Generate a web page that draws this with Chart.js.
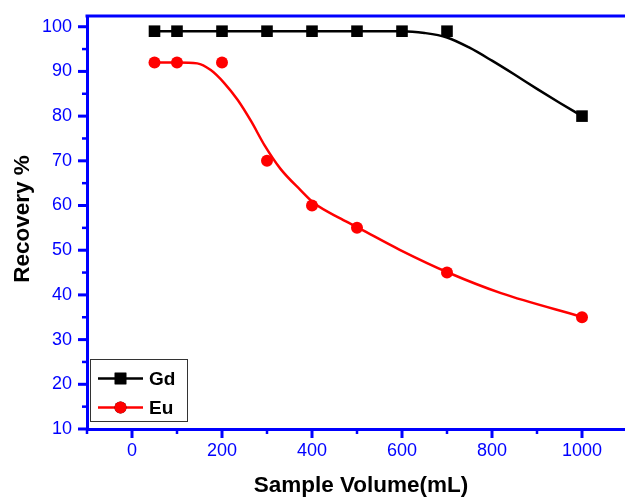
<!DOCTYPE html>
<html>
<head>
<meta charset="utf-8">
<script src="https://cdn.jsdelivr.net/npm/chart.js@4.4.1/dist/chart.umd.min.js"></script>
<style>
  html, body { margin: 0; padding: 0; background: #fff; overflow: hidden; }
  #wrap { position: absolute; left: 0; top: 0; width: 640px; height: 497px; }
</style>
</head>
<body>
<div id="wrap"><canvas id="c" width="640" height="497"></canvas></div>
<script>
// Measured recovery values
const volumes   = [50, 100, 200, 300, 400, 500, 600, 700, 1000];
const gdValues  = [99, 99, 99, 99, 99, 99, 99, 99, 80];
const euVolumes = [50, 100, 200, 300, 400, 500, 700, 1000];
const euValues  = [92, 92, 92, 70, 60, 55, 45, 35];

// Fitted trend curves
const gdCurveX = [50, 100, 200, 300, 400, 500, 600, 650, 700, 750, 800, 850, 900, 950, 1000];
const gdCurveY = [99, 99, 99, 99, 99, 99, 99, 98.6, 97.6, 95.3, 92.4, 89.3, 86.1, 83.0, 80];
const euCurveX = [50, 100, 145, 175, 205, 235, 265, 295, 330, 375, 405, 465, 505, 595, 705, 820, 1000];
const euCurveY = [92, 92, 91.8, 90.3, 87.4, 83.6, 78.8, 73.4, 68.2, 63.4, 60.5, 57.0, 54.9, 50.1, 44.9, 40.4, 35.1];

// Axis ticks
const xMajorTicks = [0, 200, 400, 600, 800, 1000];
const xMinorTicks = [-100, 100, 300, 500, 700, 900];
const yMajorTicks = [10, 20, 30, 40, 50, 60, 70, 80, 90, 100];
const yMinorTicks = [15, 25, 35, 45, 55, 65, 75, 85, 95];

const BLUE = '#0000ff';
const toPts = (xs, ys) => xs.map((x, i) => ({ x: x, y: ys[i] }));
const noPad = s => { s.paddingTop = 0; s.paddingBottom = 0; s.paddingLeft = 0; s.paddingRight = 0; };

const frame = {
  id: 'frame',
  afterDraw(chart) {
    const ctx = chart.ctx;
    const a = chart.chartArea;
    const xs = chart.scales.x, ys = chart.scales.y;
    ctx.save();
    ctx.strokeStyle = BLUE;
    ctx.lineCap = 'butt';
    // top border
    ctx.lineWidth = 3;
    ctx.beginPath();
    ctx.moveTo(a.left - 1.5, a.top);
    ctx.lineTo(chart.width, a.top);
    ctx.stroke();
    // tick marks, drawn outward
    const tickX = (v, len, w) => {
      const p = xs.getPixelForValue(v);
      ctx.lineWidth = w;
      ctx.beginPath(); ctx.moveTo(p, a.bottom); ctx.lineTo(p, a.bottom + len); ctx.stroke();
    };
    const tickY = (v, len, w) => {
      const p = ys.getPixelForValue(v);
      ctx.lineWidth = w;
      ctx.beginPath(); ctx.moveTo(a.left, p); ctx.lineTo(a.left - len, p); ctx.stroke();
    };
    xMajorTicks.forEach(v => tickX(v, 9, 3));
    xMinorTicks.forEach(v => tickX(v, 5, 2.5));
    yMajorTicks.forEach(v => tickY(v, 9, 3));
    yMinorTicks.forEach(v => tickY(v, 5, 2.5));

    // axis titles
    ctx.fillStyle = '#000';
    ctx.font = 'bold 22.5px "Liberation Sans", Arial, sans-serif';
    ctx.textAlign = 'center';
    ctx.textBaseline = 'middle';
    ctx.fillText('Sample Volume(mL)', 361, 486);
    ctx.save();
    ctx.translate(23, 219);
    ctx.rotate(-Math.PI / 2);
    ctx.fillText('Recovery %', 0, 0);
    ctx.restore();

    // legend box
    ctx.lineWidth = 1;
    ctx.strokeStyle = '#333';
    ctx.strokeRect(90.5, 359.5, 97, 62);
    const items = [
      { ds: chart.data.datasets[0], y: 378.5 },
      { ds: chart.data.datasets[1], y: 407.5 }
    ];
    items.forEach(it => {
      ctx.strokeStyle = it.ds.borderColor;
      ctx.lineWidth = 2.5;
      ctx.beginPath(); ctx.moveTo(98, it.y); ctx.lineTo(143, it.y); ctx.stroke();
      Chart.helpers.drawPoint(ctx, {
        pointStyle: it.ds.pointStyle, radius: it.ds.pointRadius, borderWidth: 0
      }, 120.5, it.y);
      ctx.fillStyle = it.ds.backgroundColor;
      ctx.fill();
      ctx.fillStyle = '#000';
      ctx.font = 'bold 19px "Liberation Sans", Arial, sans-serif';
      ctx.textAlign = 'left';
      ctx.textBaseline = 'middle';
      ctx.fillText(it.ds.label, 149, it.y + 1);
    });
    ctx.restore();
  }
};

new Chart(document.getElementById('c'), {
  type: 'line',
  data: {
    datasets: [
      { label: 'Gd', data: toPts(volumes, gdValues), showLine: false,
        pointStyle: 'rect', pointRadius: 8.2, pointBorderWidth: 0,
        backgroundColor: '#000', borderColor: '#000', order: 0 },
      { label: 'Eu', data: toPts(euVolumes, euValues), showLine: false,
        pointStyle: 'circle', pointRadius: 6, pointBorderWidth: 0,
        backgroundColor: '#ff0000', borderColor: '#ff0000', order: 0 },
      { label: 'Gd fit', data: toPts(gdCurveX, gdCurveY), pointRadius: 0,
        borderColor: '#000', borderWidth: 2.5, cubicInterpolationMode: 'monotone', order: 1 },
      { label: 'Eu fit', data: toPts(euCurveX, euCurveY), pointRadius: 0,
        borderColor: '#ff0000', borderWidth: 2.5, cubicInterpolationMode: 'monotone', order: 1 }
    ]
  },
  options: {
    responsive: false,
    maintainAspectRatio: false,
    animation: false,
    layout: { padding: { top: 16, right: 13, left: 0, bottom: 0 } },
    plugins: { legend: { display: false }, tooltip: { enabled: false } },
    scales: {
      x: {
        type: 'linear', min: -100, max: 1100,
        afterFit: s => { s.height = 68; noPad(s); },
        afterBuildTicks: s => { s.ticks = xMajorTicks.map(v => ({ value: v })); },
        grid: { display: true, drawOnChartArea: false, drawTicks: false },
        border: { display: true, color: BLUE, width: 3 },
        ticks: { color: BLUE, padding: 11, maxRotation: 0, autoSkip: false,
                 callback: v => String(v),
                 font: { family: '"Liberation Sans", Arial, sans-serif', size: 18 } }
      },
      y: {
        type: 'linear', min: 10, max: 102.4,
        afterFit: s => { s.width = 87; noPad(s); },
        afterBuildTicks: s => { s.ticks = yMajorTicks.map(v => ({ value: v })); },
        grid: { display: true, drawOnChartArea: false, drawTicks: false },
        border: { display: true, color: BLUE, width: 3 },
        ticks: { color: BLUE, padding: 15, autoSkip: false,
                 callback: v => String(v),
                 font: { family: '"Liberation Sans", Arial, sans-serif', size: 18 } }
      }
    }
  },
  plugins: [frame]
});
</script>
</body>
</html>
